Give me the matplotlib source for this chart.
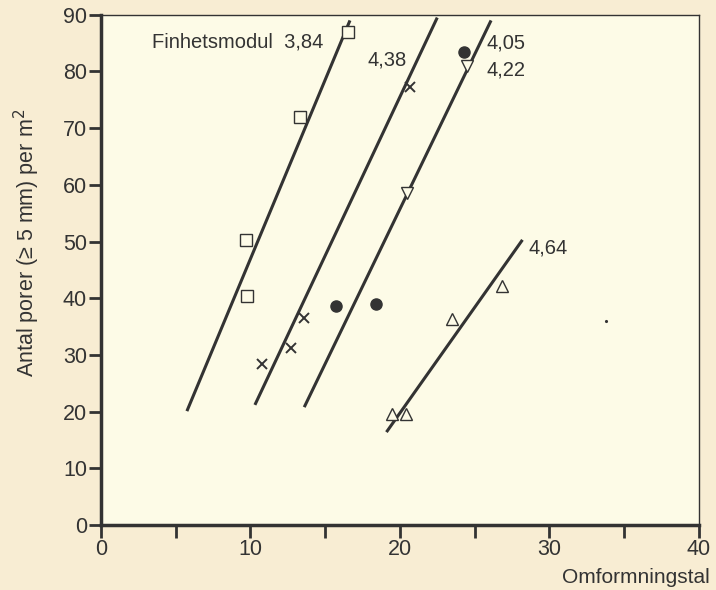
import matplotlib
matplotlib.use('Agg')
import matplotlib.pyplot as plt
from matplotlib.ticker import MultipleLocator

plt.rcParams['font.family'] = ['Liberation Sans', 'DejaVu Sans']

# finhetsmodul 3,84 (squares)
sq_x = [9.7, 9.8, 13.3, 16.5]
sq_y = [50.3, 40.4, 72.0, 87.0]
# 4,38 (crosses)
cr_x = [10.8, 12.7, 13.6, 20.7]
cr_y = [28.4, 31.2, 36.5, 77.3]
# 4,05 (filled circles)
ci_x = [15.7, 18.4, 24.3]
ci_y = [38.6, 39.0, 83.5]
# 4,22 (down triangles)
dt_x = [20.5, 24.5]
dt_y = [58.5, 80.9]
# 4,64 (up triangles)
ut_x = [19.5, 20.4, 23.5, 26.8]
ut_y = [19.6, 19.6, 36.3, 42.2]
# stray dot
dot_x = [33.8]
dot_y = [36.0]

# fitted lines (end points)
lines = {
    '3,84': ([5.75, 16.66], [20.1, 89.0]),
    '4,38': ([10.3, 22.5], [21.2, 89.5]),
    '4,05': ([13.6, 26.1], [20.8, 89.0]),
    '4,64': ([19.1, 28.2], [16.4, 50.3]),
}

dark = '#333333'
outer_bg = '#f8edd3'
inner_bg = '#fdfbe7'

fig = plt.figure(figsize=(7.16, 5.9), dpi=100, facecolor=outer_bg)
ax = fig.add_axes([0.141, 0.110, 0.835, 0.865], facecolor=inner_bg)

for k, (lx, ly) in lines.items():
    ax.plot(lx, ly, color=dark, lw=2.2, solid_capstyle='butt')

ax.plot(sq_x, sq_y, 's', ms=9, mfc=inner_bg, mec=dark, mew=1.0, ls='none')
ax.plot(cr_x, cr_y, 'x', ms=6.5, mec=dark, mew=1.4, ls='none')
ax.plot(ci_x, ci_y, 'o', ms=8, mfc=dark, mec=dark, ls='none')
ax.plot(dt_x, dt_y, 'v', ms=8, mfc=inner_bg, mec=dark, mew=1.0, ls='none')
ax.plot(ut_x, ut_y, '^', ms=8, mfc=inner_bg, mec=dark, mew=1.0, ls='none')
ax.plot(dot_x, dot_y, '.', ms=2.5, color=dark, ls='none')

fs = 14.5
ax.text(14.9, 85.2, 'Finhetsmodul  3,84', ha='right', va='center', fontsize=fs, color=dark)
ax.text(17.8, 82.0, '4,38', ha='left', va='center', fontsize=fs, color=dark)
ax.text(25.8, 85.0, '4,05', ha='left', va='center', fontsize=fs, color=dark)
ax.text(25.8, 80.3, '4,22', ha='left', va='center', fontsize=fs, color=dark)
ax.text(28.6, 48.9, '4,64', ha='left', va='center', fontsize=fs, color=dark)

ax.set_xlim(0, 40)
ax.set_ylim(0, 90)
ax.xaxis.set_major_locator(MultipleLocator(10))
ax.xaxis.set_minor_locator(MultipleLocator(5))
ax.yaxis.set_major_locator(MultipleLocator(10))

ax.spines['left'].set_linewidth(2.5)
ax.spines['bottom'].set_linewidth(2.5)
ax.spines['top'].set_linewidth(1.0)
ax.spines['right'].set_linewidth(1.0)
for s in ax.spines.values():
    s.set_color(dark)

ax.tick_params(axis='both', which='major', direction='out', length=9, width=2,
               color=dark, labelcolor=dark, labelsize=15.5, pad=1)
ax.tick_params(axis='x', which='minor', direction='out', length=9, width=2, color=dark)

ax.set_xlabel('Omformningstal', fontsize=15, color=dark, ha='right', va='center')
ax.xaxis.set_label_coords(1.018, -0.102)
ax.set_ylabel('Antal porer (\u2265 5 mm) per m$^2$', fontsize=15.5, color=dark, va='center')
ax.yaxis.set_label_coords(-0.124, 0.553)

fig.savefig('out.png', dpi=100, facecolor=outer_bg)
